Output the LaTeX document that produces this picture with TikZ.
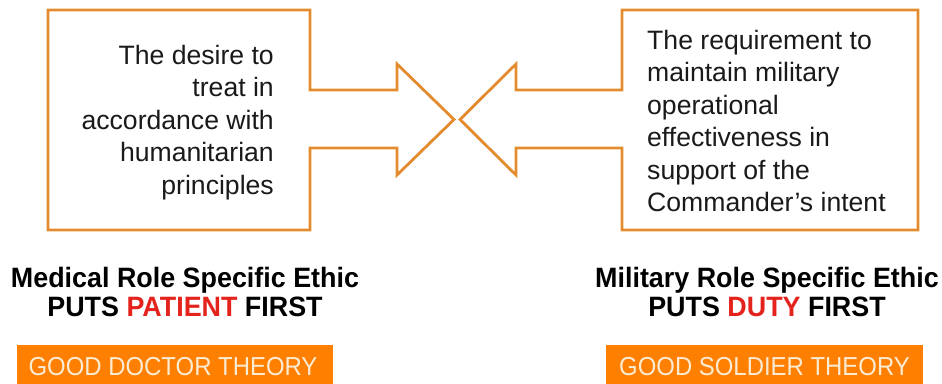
\documentclass[tikz,border=0pt]{standalone}
\usepackage{fontspec}
\setmainfont{Liberation Sans}
\newfontfamily\rolefont[FakeStretch=0.96]{Liberation Sans}
\newfontfamily\theoryfont[FakeStretch=0.92]{Liberation Sans}
\definecolor{outl}{HTML}{E38B2F}
\definecolor{boxfill}{HTML}{FF8000}
\definecolor{cream}{HTML}{FCEBD3}
\definecolor{hot}{HTML}{E3231C}
\definecolor{txt}{HTML}{1A1A1A}
\tikzset{
  arrowshape/.style={draw=outl, line width=2.8pt, line join=miter, fill=white},
  boxtext/.style={inner sep=0pt, text=txt, font=\fontsize{26.6}{32.5}\selectfont},
  roletext/.style={inner sep=0pt, text=black, align=center, font=\rolefont\bfseries\fontsize{28}{29}\selectfont},
  theorybox/.style={fill=boxfill, draw=none},
  theorytext/.style={inner sep=0pt, text=cream, font=\theoryfont\fontsize{26}{26}\selectfont},
}
\begin{document}
\begin{tikzpicture}[x=1pt, y=-1pt]
\useasboundingbox (0,0) rectangle (942,383);
\fill[white] (0,0) rectangle (942,383);
% left arrow-callout
\draw[arrowshape] (48,10) -- (310,10) -- (310,90) -- (397,90) -- (397,64) -- (454,119.5)
  -- (397,175) -- (397,148) -- (310,148) -- (310,230) -- (48,230) -- cycle;
% right arrow-callout
\draw[arrowshape] (918,10) -- (622,10) -- (622,90) -- (516,90) -- (516,64) -- (460,119.5)
  -- (516,175) -- (516,148) -- (622,148) -- (622,230) -- (918,230) -- cycle;
\node[boxtext, align=right, anchor=north east] (lefttxt) at (274,45)
  {The desire to\\treat in\\accordance with\\humanitarian\\principles};
\node[boxtext, align=left, anchor=north west] (righttxt) at (647,30)
  {The requirement to\\maintain military\\operational\\effectiveness in\\support of the\\Commander’s intent};
\node[roletext, anchor=north] (medrole) at (185,267)
  {Medical Role Specific Ethic\\PUTS \textcolor{hot}{PATIENT} FIRST};
\node[roletext, anchor=north] (milrole) at (767,267)
  {Military Role Specific Ethic\\PUTS \textcolor{hot}{DUTY} FIRST};
\fill[theorybox] (17,345) rectangle (333,390);
\fill[theorybox] (606,345) rectangle (923,390);
\node[theorytext, anchor=base] (gooddoc) at (173,375) {GOOD DOCTOR THEORY};
\node[theorytext, anchor=base] (goodsol) at (764.5,375) {GOOD SOLDIER THEORY};
\end{tikzpicture}
\end{document}
